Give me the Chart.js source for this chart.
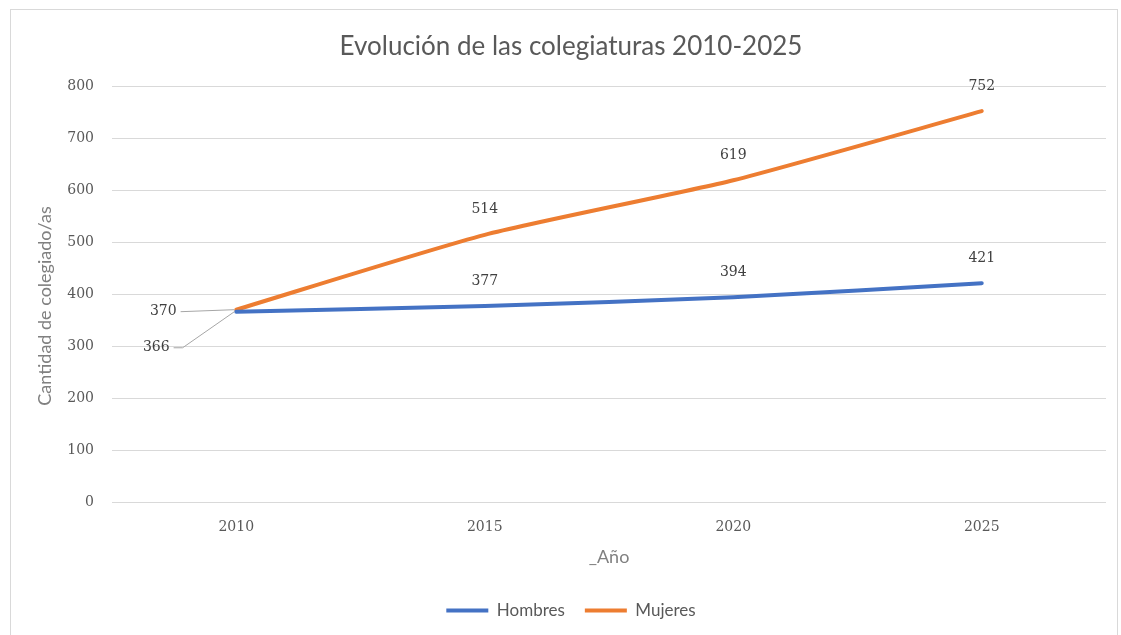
<!DOCTYPE html>
<html>
<head>
<meta charset="utf-8">
<script src="https://cdn.jsdelivr.net/npm/chart.js@4.4.1/dist/chart.umd.min.js"></script>
<style>
  html, body { margin: 0; padding: 0; background: #ffffff; }
  #frame { position: absolute; left: 10px; top: 9px; width: 1108px; height: 640px; border: 1px solid #d9d9d9; box-sizing: border-box; }
  #wrap { position: absolute; left: 0; top: 0; width: 1121px; height: 635px; }
</style>
</head>
<body>
<div id="frame"></div>
<div id="wrap"><canvas id="c" width="1121" height="635"></canvas></div>
<script>
const categories = ['2010', '2015', '2020', '2025'];
const hombres = [366, 377, 394, 421];
const mujeres = [370, 514, 619, 752];
const seriesNames = ['Hombres', 'Mujeres'];
const yTicks = [0, 100, 200, 300, 400, 500, 600, 700, 800];
const yTitle = 'Cantidad de colegiado/as';

const labelFont = '14px "DejaVu Serif"';

const dataLabels = {
  id: 'dataLabels',
  afterDatasetsDraw(chart) {
    const ctx = chart.ctx;
    ctx.save();
    ctx.font = labelFont;
    ctx.fillStyle = '#404040';
    ctx.textAlign = 'center';
    ctx.textBaseline = 'middle';
    const leaders = [
      { dx: -80, dy: 36, elbow: 9 },
      { dx: -73, dy: 2, elbow: 0 }
    ];
    chart.data.datasets.forEach((ds, di) => {
      const meta = chart.getDatasetMeta(di);
      meta.data.forEach((pt, i) => {
        const txt = String(ds.data[i]);
        if (i === 0) {
          const L = leaders[di];
          const lx = pt.x + L.dx, ly = pt.y + L.dy;
          ctx.fillText(txt, lx, ly);
          const w = ctx.measureText(txt).width;
          ctx.strokeStyle = '#a6a6a6';
          ctx.lineWidth = 1;
          ctx.beginPath();
          ctx.moveTo(lx + w / 2 + 4, ly);
          if (L.elbow) ctx.lineTo(lx + w / 2 + 4 + L.elbow, ly);
          ctx.lineTo(pt.x - 2, pt.y);
          ctx.stroke();
        } else {
          ctx.fillText(txt, pt.x, pt.y - 25);
        }
      });
    });
    ctx.font = '18px Lato';
    ctx.fillStyle = '#808080';
    ctx.translate(45, 306);
    ctx.rotate(-Math.PI / 2);
    ctx.fillText(yTitle, 0, 0);
    ctx.restore();
  }
};

new Chart(document.getElementById('c'), {
  type: 'line',
  data: {
    labels: categories,
    datasets: [
      { label: seriesNames[0], data: hombres, borderColor: '#4472C4', backgroundColor: '#4472C4', borderWidth: 4, pointRadius: 0, tension: 0.2, borderCapStyle: 'round' },
      { label: seriesNames[1], data: mujeres, borderColor: '#ED7D31', backgroundColor: '#ED7D31', borderWidth: 4, pointRadius: 0, tension: 0.2, borderCapStyle: 'round' }
    ]
  },
  options: {
    responsive: false,
    animation: false,
    layout: { padding: { left: 36, right: 15, top: 0, bottom: 6 } },
    plugins: {
      title: {
        display: true,
        text: 'Evolución de las colegiaturas 2010-2025',
        color: '#595959',
        font: { family: 'Lato', size: 26, weight: 'normal' },
        padding: { top: 31, bottom: 24 }
      },
      legend: {
        position: 'bottom',
        labels: {
          usePointStyle: true,
          pointStyle: 'line',
          pointStyleWidth: 42,
          boxWidth: 42,
          color: '#595959',
          font: { family: 'Lato', size: 17 },
          padding: 20
        }
      },
      tooltip: { enabled: false }
    },
    scales: {
      x: {
        offset: true,
        grid: { display: false },
        border: { display: false },
        ticks: { color: '#595959', font: { family: 'DejaVu Serif', size: 14 }, padding: 9 },
        title: { display: true, text: '_Año', color: '#808080', font: { family: 'Lato', size: 18 }, padding: { top: 0, bottom: 14 } },
        afterFit(s) { s.height = 80; }
      },
      y: {
        min: 0, max: 800,
        afterBuildTicks(s) { s.ticks = yTicks.map(v => ({ value: v })); },
        grid: { color: '#d9d9d9', lineWidth: 1, drawTicks: false },
        border: { display: false },
        ticks: { color: '#595959', font: { family: 'DejaVu Serif', size: 14 }, padding: 18 },
        title: { display: false },
        afterFit(s) { s.width = 76; }
      }
    }
  },
  plugins: [dataLabels]
});
</script>
</body>
</html>
